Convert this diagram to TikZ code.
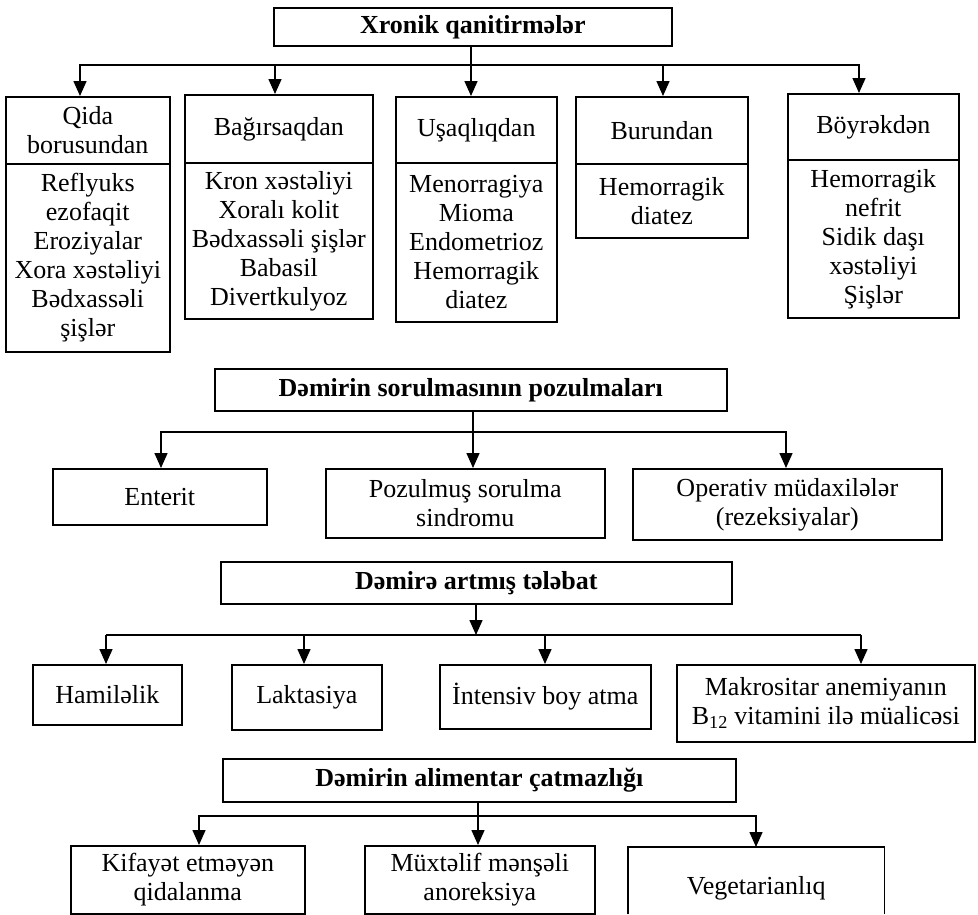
\documentclass[tikz,border=0pt]{standalone}
\usepackage{fontspec}
\setmainfont{Liberation Serif}
\usetikzlibrary{arrows.meta}
\begin{document}
\begin{tikzpicture}[x=1pt,y=-1pt,
  every node/.style={inner sep=0pt, font=\fontsize{26}{29}\selectfont},
  box/.style={draw, line width=1.6pt, align=center, anchor=north west},
  blank/.style={align=center, anchor=north west},
  head/.style={box, font=\fontsize{26}{29}\selectfont\bfseries},
  sz/.style 2 args={minimum width=#1pt, minimum height=#2pt},
  link/.style={line width=1.5pt, line join=miter},
  arr/.style={link, -{Triangle[length=15pt,width=13pt]}}]
\useasboundingbox (0,0) rectangle (978,914);

% ---------- Xronik qanitirmələr ----------
\node[head, sz={398}{38}] (xq) at (273,7) {Xronik qanitirmələr};

\node[box, sz={164}{67}]  (qidaH) at (5,96)   {Qida\\borusundan};
\node[box, sz={164}{188}] (qidaB) at (5,163)  {Reflyuks\\ezofaqit\\Eroziyalar\\Xora xəstəliyi\\Bədxassəli\\şişlər};
\node[box, sz={188}{68}]  (bagH)  at (184,94) {Bağırsaqdan};
\node[box, sz={188}{156}] (bagB)  at (184,162) {Kron xəstəliyi\\Xoralı kolit\\Bədxassəli şişlər\\Babasil\\Divertkulyoz};
\node[box, sz={161}{66}]  (usH)   at (395,96) {Uşaqlıqdan};
\node[box, sz={161}{159}] (usB)   at (395,162) {Menorragiya\\Mioma\\Endometrioz\\Hemorragik\\diatez};
\node[box, sz={172}{67}]  (burH)  at (575,96) {Burundan};
\node[box, sz={172}{74}]  (burB)  at (575,163) {Hemorragik\\diatez};
\node[box, sz={171}{66}]  (boyH)  at (787,93) {Böyrəkdən};
\node[box, sz={171}{158}] (boyB)  at (787,159) {Hemorragik\\nefrit\\Sidik daşı\\xəstəliyi\\Şişlər};

\coordinate (s1)  at (471,65);
\coordinate (s1l) at (80,65);
\coordinate (s1b) at (275,65);
\coordinate (s1d) at (663,65);
\coordinate (s1r) at (859,65);
\draw[arr] (s1 |- xq.south) -- (s1 |- usH.north);
\draw[arr] (s1) -- (s1l) -- (s1l |- qidaH.north);
\draw[arr] (s1) -- (s1r) -- (s1r |- boyH.north);
\draw[arr] (s1b) -- (s1b |- bagH.north);
\draw[arr] (s1d) -- (s1d |- burH.north);

% ---------- Dəmirin sorulmasının pozulmaları ----------
\node[head, sz={512}{42}] (ds) at (214,368) {Dəmirin sorulmasının pozulmaları};
\node[box, sz={214}{56}] (ent) at (52,468)  {Enterit};
\node[box, sz={279}{69}] (poz) at (325,468) {Pozulmuş sorulma\\sindromu};
\node[box, sz={309}{71}] (op)  at (632,468) {Operativ müdaxilələr\\(rezeksiyalar)};

\coordinate (s2)  at (473,432);
\coordinate (s2l) at (161,432);
\coordinate (s2r) at (786,432);
\draw[arr] (s2 |- ds.south) -- (s2 |- poz.north);
\draw[arr] (s2) -- (s2l) -- (s2l |- ent.north);
\draw[arr] (s2) -- (s2r) -- (s2r |- op.north);

% ---------- Dəmirə artmış tələbat ----------
\node[head, sz={511}{42}] (dt) at (220,561) {Dəmirə artmış tələbat};
\node[box, sz={149}{60}] (ham) at (32,664)  {Hamiləlik};
\node[box, sz={150}{65}] (lak) at (231,664) {Laktasiya};
\node[box, sz={211}{64}] (int) at (439,664) {İntensiv boy atma};
\node[box, sz={298}{77}] (mak) at (676,664) {Makrositar anemiyanın\\B\textsubscript{12} vitamini ilə müalicəsi};

\coordinate (s3)  at (476,635);
\coordinate (s3l) at (106,635);
\coordinate (s3b) at (304,635);
\coordinate (s3c) at (545,635);
\coordinate (s3r) at (861,635);
\draw[arr] (s3 |- dt.south) -- (s3);
\draw[link] (s3l) -- (s3r);
\draw[arr] (s3l) -- (s3l |- ham.north);
\draw[arr] (s3b) -- (s3b |- lak.north);
\draw[arr] (s3c) -- (s3c |- int.north);
\draw[arr] (s3r) -- (s3r |- mak.north);

% ---------- Dəmirin alimentar çatmazlığı ----------
\node[head, sz={513}{43}] (da) at (222,758) {Dəmirin alimentar çatmazlığı};
\node[box, sz={234}{68}] (kif) at (70,845)  {Kifayət etməyən\\qidalanma};
\node[box, sz={230}{68}] (mux) at (364,845) {Müxtəlif mənşəli\\anoreksiya};
\node[blank, sz={256}{67}] (veg) at (628,847) {};
\node (vegt) at ([yshift=-8pt]veg.center) {Vegetarianlıq};
\draw[line width=1.6pt] (veg.south west) -- (veg.north west) -- (veg.north east) -- (veg.south east);

\coordinate (s4)  at (478,816);
\coordinate (s4l) at (199,816);
\coordinate (s4r) at (756,816);
\draw[arr] (s4 |- da.south) -- (s4 |- mux.north);
\draw[arr] (s4) -- (s4l) -- (s4l |- kif.north);
\draw[arr] (s4) -- (s4r) -- (s4r |- veg.north);
\end{tikzpicture}
\end{document}
